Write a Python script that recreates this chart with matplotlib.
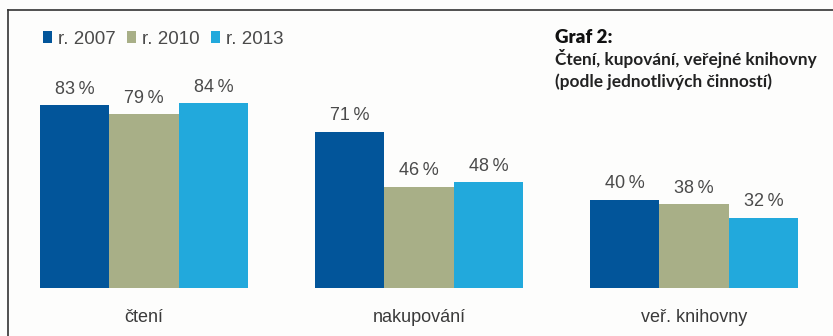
import numpy as np
import matplotlib
matplotlib.use("Agg")
from matplotlib import pyplot as plt
from matplotlib.patches import Patch
from matplotlib.lines import Line2D

categories = ["čtení", "nakupování", "veř. knihovny"]
years = ["r. 2007", "r. 2010", "r. 2013"]
v2007 = [83, 71, 40]
v2010 = [79, 46, 38]
v2013 = [84, 48, 32]
colors = ["#02559a", "#a8af87", "#22a9dc"]

plt.rcParams["font.family"] = ["Liberation Sans Narrow", "Liberation Sans", "DejaVu Sans"]

fig = plt.figure(figsize=(8.33, 3.36), dpi=100, facecolor="#fdfdfc")
ax = fig.add_axes([0, 48 / 336, 1, 288 / 336])
ax.set_facecolor("none")

x = np.arange(len(categories))
w = 0.253
for i, (vals, c) in enumerate(zip([v2007, v2010, v2013], colors)):
    bars = ax.bar(x + (i - 1) * w, vals, w, color=c, label=years[i])
    for b, v in zip(bars, vals):
        ax.annotate(f"{v}\u2009%", (b.get_x() + b.get_width() / 2, v),
                    xytext=(0, 5.5), textcoords="offset points",
                    ha="center", va="bottom", fontsize=13, color="#4a4a4a")

ax.set_xlim(-144 / 275, (833 - 144) / 275)
ax.set_ylim(0, 288 / 2.2)
ax.axis("off")

for xi, name in zip(x, categories):
    fig.text((144 + 275 * xi) / 833, 1 - 318 / 336, name, ha="center", va="center",
             fontsize=13, color="#3a3a3a")

# legend across the top left
handles = [Patch(facecolor=c, edgecolor="none") for c in colors]
fig.legend(handles, years, loc="center left", bbox_to_anchor=(26 / 833, 1 - 39 / 336),
           ncol=3, frameon=False, fontsize=13.5, handlelength=0.5, handleheight=0.6,
           handletextpad=0.3, columnspacing=0.6, labelcolor="#4a4a4a")

# chart caption on the right
tf = ["Lato", "DejaVu Sans"]
fig.text(555 / 833, 1 - 43 / 336, "Graf 2:", fontsize=13.5, fontweight="heavy",
         family=tf, color="#111111", va="baseline")
fig.text(555 / 833, 1 - 65 / 336, "Čtení, kupování, veřejné knihovny", fontsize=12.4,
         fontweight="bold", family=tf, color="#222222", va="baseline")
fig.text(555 / 833, 1 - 87 / 336, "(podle jednotlivých činností)", fontsize=12.4,
         fontweight="bold", family=tf, color="#222222", va="baseline")

# frame lines top and left
fig.add_artist(Line2D([7.5 / 833, 7.5 / 833], [0, 1 - 9.5 / 336], color="#333333", lw=1.2))
fig.add_artist(Line2D([7.5 / 833, 1], [1 - 9.5 / 336, 1 - 9.5 / 336], color="#333333", lw=1.2))

fig.savefig("out.png", dpi=100, facecolor=fig.get_facecolor())
